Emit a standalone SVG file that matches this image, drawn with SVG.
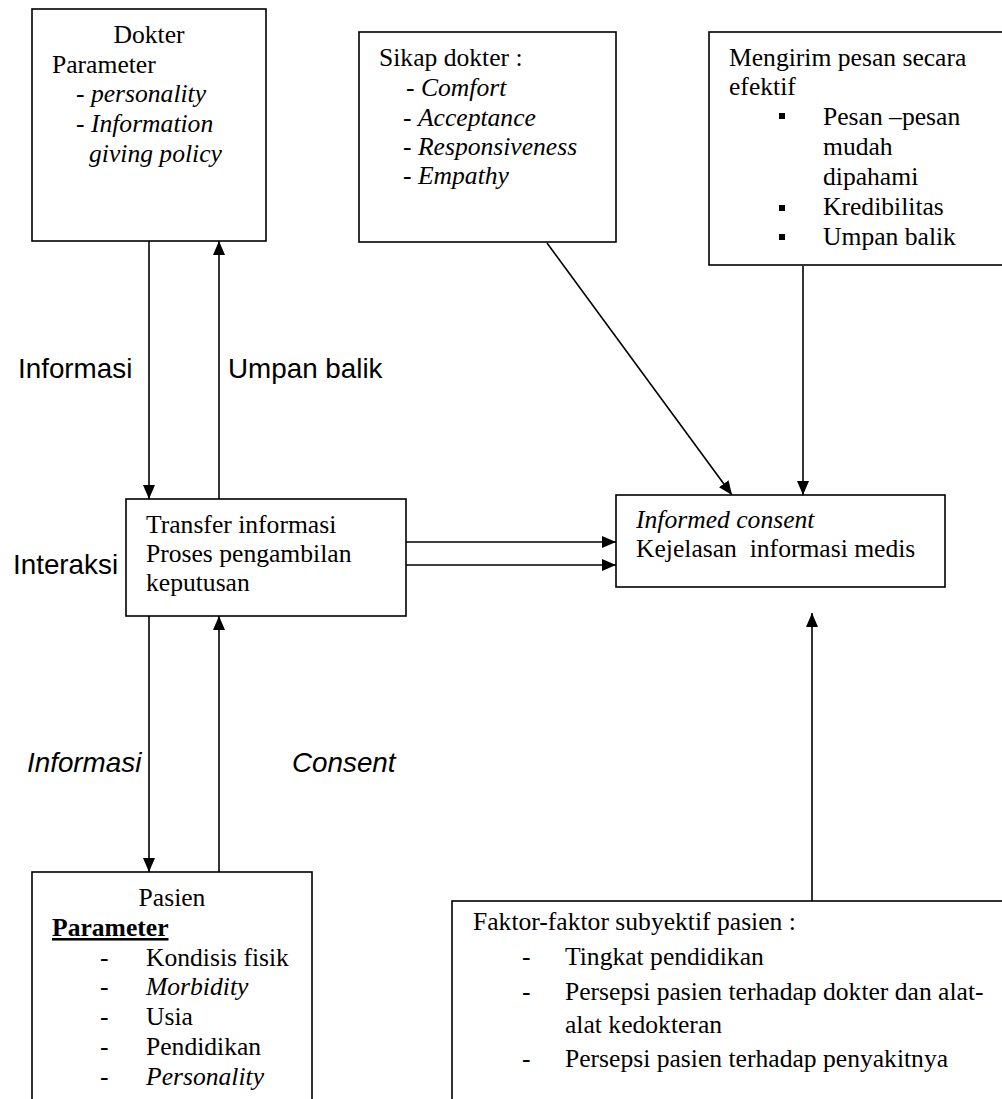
<svg xmlns="http://www.w3.org/2000/svg" width="1002" height="1099" viewBox="0 0 1002 1099">
<style>
.box{fill:#fff;stroke:#000;stroke-width:1.6}
.t{font-family:"Liberation Serif","Times New Roman",serif;font-size:25.6px;fill:#000}
.s{font-family:"Liberation Sans",Arial,sans-serif;font-size:27.8px;fill:#000}
.i{font-style:italic}
.b{font-weight:bold;text-decoration:underline}
.ln{stroke:#000;stroke-width:1.6;fill:none;marker-end:url(#ah)}
.pl{stroke:#000;stroke-width:1.6;fill:none}
</style>
<defs>
<marker id="ah" viewBox="0 0 14 12" refX="14" refY="6" markerWidth="14" markerHeight="12" orient="auto" markerUnits="userSpaceOnUse"><path d="M0,0 L14,6 L0,12 z" fill="#000"/></marker>
</defs>
<rect width="1002" height="1099" fill="#fff"/>
<g id="connectors">
<line class="ln" x1="149" y1="241" x2="149" y2="499"/>
<line class="ln" x1="219" y1="499" x2="219" y2="241"/>
<line class="ln" x1="149" y1="616" x2="149" y2="872"/>
<line class="ln" x1="219" y1="872" x2="219" y2="616"/>
<line class="ln" x1="406" y1="542" x2="616" y2="542"/>
<line class="ln" x1="406" y1="565" x2="616" y2="565"/>
<line class="ln" x1="547" y1="243" x2="732" y2="495"/>
<line class="ln" x1="803" y1="266" x2="803" y2="495"/>
<line class="ln" x1="812" y1="901" x2="812" y2="613"/>
</g>
<g id="labels">
<text class="s" x="18" y="378">Informasi</text>
<text class="s" x="228" y="378">Umpan balik</text>
<text class="s" x="13" y="574">Interaksi</text>
<text class="s i" x="27" y="772">Informasi</text>
<text class="s i" x="292" y="772">Consent</text>
</g>
<g id="dokter">
<rect class="box" x="32" y="9" width="234" height="232"/>
<text class="t" x="149" y="43" text-anchor="middle">Dokter</text>
<text class="t" x="52" y="73">Parameter</text>
<text class="t" x="76" y="102">- <tspan class="i">personality</tspan></text>
<text class="t" x="76" y="132">- <tspan class="i">Information</tspan></text>
<text class="t i" x="89" y="162">giving policy</text>
</g>
<g id="sikap">
<rect class="box" x="359" y="32" width="257" height="210"/>
<text class="t" x="379" y="66">Sikap dokter :</text>
<text class="t" x="406" y="96">- <tspan class="i">Comfort</tspan></text>
<text class="t" x="403" y="126">- <tspan class="i">Acceptance</tspan></text>
<text class="t" x="403" y="155">- <tspan class="i">Responsiveness</tspan></text>
<text class="t" x="403" y="184">- <tspan class="i">Empathy</tspan></text>
</g>
<g id="mengirim">
<rect class="box" x="709" y="32" width="310" height="233"/>
<text class="t" x="729" y="66">Mengirim pesan secara</text>
<text class="t" x="729" y="95">efektif</text>
<rect x="779" y="113" width="6" height="6" fill="#000"/>
<text class="t" x="823" y="125">Pesan –pesan</text>
<text class="t" x="823" y="155">mudah</text>
<text class="t" x="823" y="185">dipahami</text>
<rect x="779" y="205" width="6" height="6" fill="#000"/>
<text class="t" x="823" y="215">Kredibilitas</text>
<rect x="779" y="234" width="6" height="6" fill="#000"/>
<text class="t" x="823" y="245">Umpan balik</text>
</g>
<g id="transfer">
<rect class="box" x="126" y="499" width="280" height="117"/>
<text class="t" x="146" y="533">Transfer informasi</text>
<text class="t" x="146" y="562">Proses pengambilan</text>
<text class="t" x="146" y="591">keputusan</text>
</g>
<g id="informed">
<rect class="box" x="616" y="495" width="329" height="92"/>
<text class="t i" x="636" y="528">Informed consent</text>
<text class="t" x="636" y="557" xml:space="preserve">Kejelasan  informasi medis</text>
</g>
<g id="pasien">
<rect class="box" x="32" y="872" width="280" height="240"/>
<text class="t" x="172" y="906" text-anchor="middle">Pasien</text>
<text class="t b" x="52" y="936">Parameter</text>
<text class="t" x="100" y="966">-</text><text class="t" x="146" y="966">Kondisis fisik</text>
<text class="t" x="100" y="995">-</text><text class="t i" x="146" y="995">Morbidity</text>
<text class="t" x="100" y="1025">-</text><text class="t" x="146" y="1025">Usia</text>
<text class="t" x="100" y="1055">-</text><text class="t" x="146" y="1055">Pendidikan</text>
<text class="t" x="100" y="1085">-</text><text class="t i" x="146" y="1085">Personality</text>
</g>
<g id="faktor">
<rect class="box" x="452" y="901" width="570" height="220"/>
<text class="t" x="473" y="930">Faktor-faktor subyektif pasien :</text>
<text class="t" x="522" y="965">-</text><text class="t" x="565" y="965">Tingkat pendidikan</text>
<text class="t" x="522" y="1000">-</text><text class="t" x="565" y="1000">Persepsi pasien terhadap dokter dan alat-</text>
<text class="t" x="565" y="1033">alat kedokteran</text>
<text class="t" x="522" y="1067">-</text><text class="t" x="565" y="1067">Persepsi pasien terhadap penyakitnya</text>
</g>
</svg>
